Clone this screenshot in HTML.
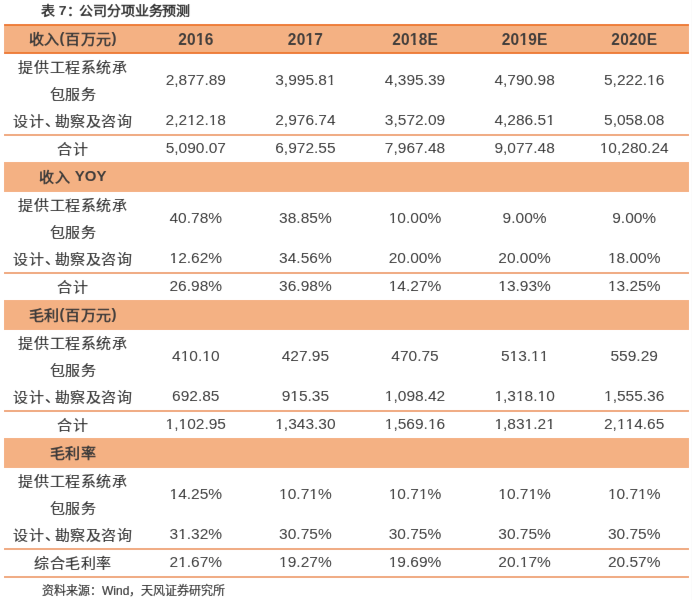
<!DOCTYPE html>
<html lang="zh-CN"><head><meta charset="utf-8"><style>
html,body{margin:0;padding:0;background:#fff;}
body{width:692px;height:600px;position:relative;overflow:hidden;font-family:"Liberation Sans",sans-serif;color:#303030;}
.b{position:absolute;}
#w{position:absolute;left:0;top:0;width:692px;height:600px;background:#fff;filter:url(#fb);}
.c,.n,.h{position:absolute;text-align:center;white-space:nowrap;height:0;line-height:20px;}
.c span,.n span,.h span{display:block;transform:translateY(-50%);}
.c{font-size:15px;letter-spacing:0.6px;-webkit-text-stroke:0.2px #303030;}
.c span{transform:translateY(-50%) scaleY(0.93);}
.c b{font-weight:normal;letter-spacing:-5px;}
.n{font-size:15.5px;-webkit-text-stroke:0px #303030;}
.n span{transform:translateY(-50%) scaleY(1.0);transform-origin:50% 4.3px;}
q{quotes:none;display:inline-block;line-height:1.1172em;vertical-align:baseline;}
q:before,q:after{content:none;}
.n q{clip-path:polygon(0 0,100% 0,100% 0.79em,0.36em 0.79em,0.36em 100%,0.232em 100%,0.232em 0.79em,0 0.79em);}
.h q{clip-path:polygon(0 0,100% 0,100% 0.77em,0.383em 0.77em,0.383em 100%,0.218em 100%,0.218em 0.77em,0 0.77em);}
.h{font-size:15.5px;font-weight:bold;color:#3a3a3a;}
.h span{transform:translateY(-50%) scale(1,1.1);letter-spacing:0.2px;padding-left:0.2px;}
.h.hc span{letter-spacing:0.5px;padding-left:0.5px;}
.hc{letter-spacing:0.5px;font-size:15px;}
.h.hc span{transform:translateY(-50%) scaleY(0.94);}
.hc i{font-style:normal;position:relative;top:-1.5px;}
.hc u{text-decoration:none;font-weight:bold;font-size:15px;letter-spacing:0px;display:inline-block;transform:translateY(-1.2px) scaleY(1.02);}
.title{position:absolute;left:41px;top:0px;font-size:14px;letter-spacing:-0.05px;font-weight:bold;white-space:nowrap;line-height:20px;transform:scaleY(0.93);transform-origin:0 10px;}
.title b{letter-spacing:-1.8px;}
.title s{text-decoration:none;letter-spacing:0px;}
.foot{position:absolute;left:42px;top:580.8px;font-size:12px;white-space:nowrap;line-height:20px;-webkit-text-stroke:0.2px #303030;}
</style></head><body><svg width="0" height="0" style="position:absolute"><filter id="fb" x="0" y="0" width="100%" height="100%"><feConvolveMatrix order="3" kernelMatrix="0 1 0 1 24 1 0 1 0" edgeMode="duplicate" preserveAlpha="true"/></filter></svg><div id="w">
<div class="title">表 <s>7</s><b>：</b>公司分项业务预测</div>
<div class="b" style="left:4px;top:24px;width:685px;height:30px;background:#F4B183"></div>
<div class="b" style="left:4px;top:24px;width:685px;height:2px;background:#ED7D31"></div>
<div class="b" style="left:4px;top:52px;width:685px;height:2px;background:#ED7D31"></div>
<div class="h hc" style="left:2.50px;top:38.80px;width:140px"><span>收入<i>(</i>百万元<i>)</i></span></div>
<div class="h" style="left:125.80px;top:39.45px;width:140px"><span>20<q>1</q>6</span></div>
<div class="h" style="left:235.40px;top:39.45px;width:140px"><span>20<q>1</q>7</span></div>
<div class="h" style="left:345.00px;top:39.45px;width:140px"><span>20<q>1</q>8E</span></div>
<div class="h" style="left:454.60px;top:39.45px;width:140px"><span>20<q>1</q>9E</span></div>
<div class="h" style="left:564.20px;top:39.45px;width:140px"><span>2020E</span></div>
<div class="c" style="left:3.10px;top:66.70px;width:140px"><span>提供工程系统承</span></div>
<div class="c" style="left:3.10px;top:93.70px;width:140px"><span>包服务</span></div>
<div class="c" style="left:3.10px;top:120.70px;width:140px"><span>设计<b>、</b>勘察及咨询</span></div>
<div class="n" style="left:125.80px;top:80.20px;width:140px"><span>2,877.89</span></div>
<div class="n" style="left:235.40px;top:80.20px;width:140px"><span>3,995.8<q>1</q></span></div>
<div class="n" style="left:345.00px;top:80.20px;width:140px"><span>4,395.39</span></div>
<div class="n" style="left:454.60px;top:80.20px;width:140px"><span>4,790.98</span></div>
<div class="n" style="left:564.20px;top:80.20px;width:140px"><span>5,222.<q>1</q>6</span></div>
<div class="n" style="left:125.80px;top:120.20px;width:140px"><span>2,2<q>1</q>2.<q>1</q>8</span></div>
<div class="n" style="left:235.40px;top:120.20px;width:140px"><span>2,976.74</span></div>
<div class="n" style="left:345.00px;top:120.20px;width:140px"><span>3,572.09</span></div>
<div class="n" style="left:454.60px;top:120.20px;width:140px"><span>4,286.5<q>1</q></span></div>
<div class="n" style="left:564.20px;top:120.20px;width:140px"><span>5,058.08</span></div>
<div class="b" style="left:4px;top:134px;width:685px;height:2px;background:#F0A97F"></div>
<div class="c" style="left:3.10px;top:148.70px;width:140px"><span>合计</span></div>
<div class="n" style="left:125.80px;top:148.20px;width:140px"><span>5,090.07</span></div>
<div class="n" style="left:235.40px;top:148.20px;width:140px"><span>6,972.55</span></div>
<div class="n" style="left:345.00px;top:148.20px;width:140px"><span>7,967.48</span></div>
<div class="n" style="left:454.60px;top:148.20px;width:140px"><span>9,077.48</span></div>
<div class="n" style="left:564.20px;top:148.20px;width:140px"><span><q>1</q>0,280.24</span></div>
<div class="b" style="left:4px;top:162px;width:685px;height:30px;background:#F4B183"></div>
<div class="h hc" style="left:2.50px;top:176.80px;width:140px"><span>收入 <u>YOY</u></span></div>
<div class="c" style="left:3.10px;top:204.70px;width:140px"><span>提供工程系统承</span></div>
<div class="c" style="left:3.10px;top:231.70px;width:140px"><span>包服务</span></div>
<div class="c" style="left:3.10px;top:258.70px;width:140px"><span>设计<b>、</b>勘察及咨询</span></div>
<div class="n" style="left:125.80px;top:218.20px;width:140px"><span>40.78%</span></div>
<div class="n" style="left:235.40px;top:218.20px;width:140px"><span>38.85%</span></div>
<div class="n" style="left:345.00px;top:218.20px;width:140px"><span><q>1</q>0.00%</span></div>
<div class="n" style="left:454.60px;top:218.20px;width:140px"><span>9.00%</span></div>
<div class="n" style="left:564.20px;top:218.20px;width:140px"><span>9.00%</span></div>
<div class="n" style="left:125.80px;top:258.20px;width:140px"><span><q>1</q>2.62%</span></div>
<div class="n" style="left:235.40px;top:258.20px;width:140px"><span>34.56%</span></div>
<div class="n" style="left:345.00px;top:258.20px;width:140px"><span>20.00%</span></div>
<div class="n" style="left:454.60px;top:258.20px;width:140px"><span>20.00%</span></div>
<div class="n" style="left:564.20px;top:258.20px;width:140px"><span><q>1</q>8.00%</span></div>
<div class="b" style="left:4px;top:272px;width:685px;height:2px;background:#F0A97F"></div>
<div class="c" style="left:3.10px;top:286.70px;width:140px"><span>合计</span></div>
<div class="n" style="left:125.80px;top:286.20px;width:140px"><span>26.98%</span></div>
<div class="n" style="left:235.40px;top:286.20px;width:140px"><span>36.98%</span></div>
<div class="n" style="left:345.00px;top:286.20px;width:140px"><span><q>1</q>4.27%</span></div>
<div class="n" style="left:454.60px;top:286.20px;width:140px"><span><q>1</q>3.93%</span></div>
<div class="n" style="left:564.20px;top:286.20px;width:140px"><span><q>1</q>3.25%</span></div>
<div class="b" style="left:4px;top:300px;width:685px;height:30px;background:#F4B183"></div>
<div class="h hc" style="left:2.50px;top:314.80px;width:140px"><span>毛利<i>(</i>百万元<i>)</i></span></div>
<div class="c" style="left:3.10px;top:342.70px;width:140px"><span>提供工程系统承</span></div>
<div class="c" style="left:3.10px;top:369.70px;width:140px"><span>包服务</span></div>
<div class="c" style="left:3.10px;top:396.70px;width:140px"><span>设计<b>、</b>勘察及咨询</span></div>
<div class="n" style="left:125.80px;top:356.20px;width:140px"><span>4<q>1</q>0.<q>1</q>0</span></div>
<div class="n" style="left:235.40px;top:356.20px;width:140px"><span>427.95</span></div>
<div class="n" style="left:345.00px;top:356.20px;width:140px"><span>470.75</span></div>
<div class="n" style="left:454.60px;top:356.20px;width:140px"><span>5<q>1</q>3.<q>1</q><q>1</q></span></div>
<div class="n" style="left:564.20px;top:356.20px;width:140px"><span>559.29</span></div>
<div class="n" style="left:125.80px;top:396.20px;width:140px"><span>692.85</span></div>
<div class="n" style="left:235.40px;top:396.20px;width:140px"><span>9<q>1</q>5.35</span></div>
<div class="n" style="left:345.00px;top:396.20px;width:140px"><span><q>1</q>,098.42</span></div>
<div class="n" style="left:454.60px;top:396.20px;width:140px"><span><q>1</q>,3<q>1</q>8.<q>1</q>0</span></div>
<div class="n" style="left:564.20px;top:396.20px;width:140px"><span><q>1</q>,555.36</span></div>
<div class="b" style="left:4px;top:410px;width:685px;height:2px;background:#F0A97F"></div>
<div class="c" style="left:3.10px;top:424.70px;width:140px"><span>合计</span></div>
<div class="n" style="left:125.80px;top:424.20px;width:140px"><span><q>1</q>,<q>1</q>02.95</span></div>
<div class="n" style="left:235.40px;top:424.20px;width:140px"><span><q>1</q>,343.30</span></div>
<div class="n" style="left:345.00px;top:424.20px;width:140px"><span><q>1</q>,569.<q>1</q>6</span></div>
<div class="n" style="left:454.60px;top:424.20px;width:140px"><span><q>1</q>,83<q>1</q>.2<q>1</q></span></div>
<div class="n" style="left:564.20px;top:424.20px;width:140px"><span>2,<q>1</q><q>1</q>4.65</span></div>
<div class="b" style="left:4px;top:438px;width:685px;height:30px;background:#F4B183"></div>
<div class="h hc" style="left:2.50px;top:452.80px;width:140px"><span>毛利率</span></div>
<div class="c" style="left:3.10px;top:480.70px;width:140px"><span>提供工程系统承</span></div>
<div class="c" style="left:3.10px;top:507.70px;width:140px"><span>包服务</span></div>
<div class="c" style="left:3.10px;top:534.70px;width:140px"><span>设计<b>、</b>勘察及咨询</span></div>
<div class="n" style="left:125.80px;top:494.20px;width:140px"><span><q>1</q>4.25%</span></div>
<div class="n" style="left:235.40px;top:494.20px;width:140px"><span><q>1</q>0.7<q>1</q>%</span></div>
<div class="n" style="left:345.00px;top:494.20px;width:140px"><span><q>1</q>0.7<q>1</q>%</span></div>
<div class="n" style="left:454.60px;top:494.20px;width:140px"><span><q>1</q>0.7<q>1</q>%</span></div>
<div class="n" style="left:564.20px;top:494.20px;width:140px"><span><q>1</q>0.7<q>1</q>%</span></div>
<div class="n" style="left:125.80px;top:534.20px;width:140px"><span>3<q>1</q>.32%</span></div>
<div class="n" style="left:235.40px;top:534.20px;width:140px"><span>30.75%</span></div>
<div class="n" style="left:345.00px;top:534.20px;width:140px"><span>30.75%</span></div>
<div class="n" style="left:454.60px;top:534.20px;width:140px"><span>30.75%</span></div>
<div class="n" style="left:564.20px;top:534.20px;width:140px"><span>30.75%</span></div>
<div class="b" style="left:4px;top:548px;width:685px;height:2px;background:#F0A97F"></div>
<div class="c" style="left:3.10px;top:562.70px;width:140px"><span>综合毛利率</span></div>
<div class="n" style="left:125.80px;top:562.20px;width:140px"><span>2<q>1</q>.67%</span></div>
<div class="n" style="left:235.40px;top:562.20px;width:140px"><span><q>1</q>9.27%</span></div>
<div class="n" style="left:345.00px;top:562.20px;width:140px"><span><q>1</q>9.69%</span></div>
<div class="n" style="left:454.60px;top:562.20px;width:140px"><span>20.<q>1</q>7%</span></div>
<div class="n" style="left:564.20px;top:562.20px;width:140px"><span>20.57%</span></div>
<div class="b" style="left:4px;top:576px;width:685px;height:2px;background:#F0A97F"></div>
<div class="foot">资料来源：Wind，天风证券研究所</div>
</div></body></html>
